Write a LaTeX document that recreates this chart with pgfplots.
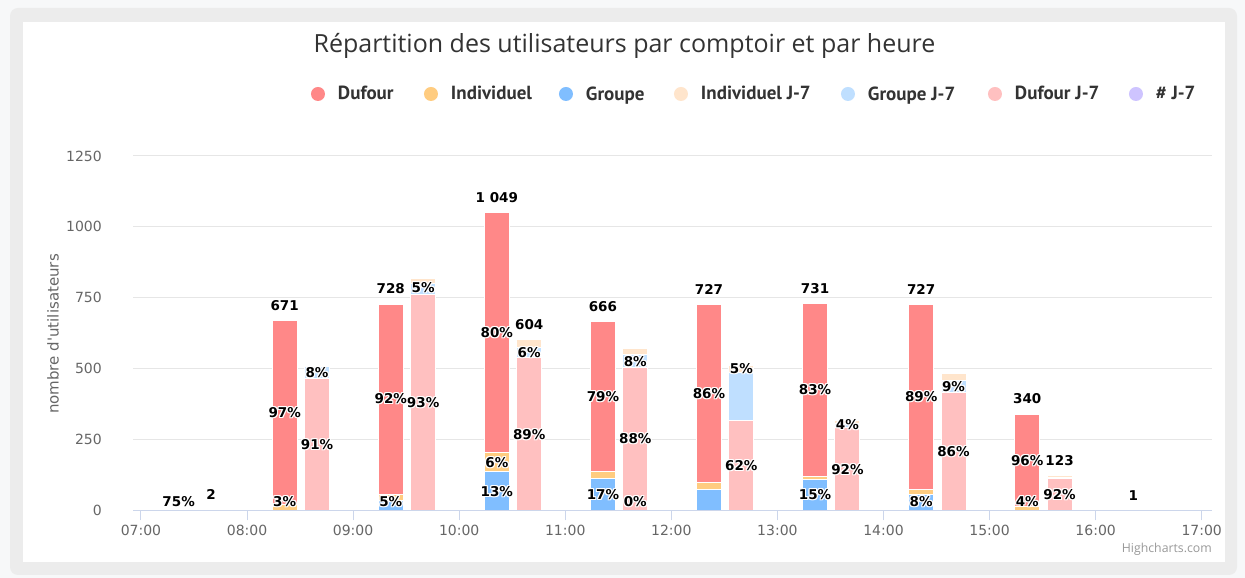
\documentclass[border=0pt]{standalone}
\usepackage{pgfplots}
\pgfplotsset{compat=1.18}
\usepackage{pgfplotstable}
\usepackage{fontspec}
\setmainfont{Open Sans}
\newfontfamily\lblfont{DejaVu Sans}
\newfontfamily\tickfont{DejaVu Sans}
\newfontfamily\legfont{PT Sans}

\definecolor{duf}{RGB}{255,136,136}
\definecolor{ind}{RGB}{255,204,128}
\definecolor{grp}{RGB}{128,190,255}
\definecolor{indj}{RGB}{255,229,204}
\definecolor{grpj}{RGB}{191,223,255}
\definecolor{dufj}{RGB}{255,192,192}
\definecolor{nj}{RGB}{206,196,255}
\definecolor{gridc}{RGB}{230,230,230}
\definecolor{axc}{RGB}{204,214,235}
\definecolor{tickc}{RGB}{102,102,102}
\definecolor{titlec}{RGB}{51,51,51}
\definecolor{outerbg}{RGB}{247,248,249}
\definecolor{framec}{RGB}{236,236,236}

\pgfplotstableread{
x G I D
7.355 0 1 3
8.355 0 20 651
9.355 36 22 670
10.355 136 68 845
11.355 113 26 527
12.355 74 24 629
13.355 109 12 610
14.355 56 18 653
15.355 0 13 327
16.355 0 0 1
}\cur

\pgfplotstableread{
x N D G I
7.66 0 2 0 0
8.66 0 466 41 5
9.66 0 760 41 16
10.66 0 538 36 30
11.66 1 502 46 22
12.66 0 318 170 25
13.66 0 292 13 12
14.66 0 416 44 23
15.66 0 113 4 6
16.66 0 0 0 0
}\jsept

\newcommand{\outl}[1]{%
  \makebox[0pt]{\raisebox{1pt}{\color{white}#1}}%
  \makebox[0pt]{\raisebox{-1pt}{\color{white}#1}}%
  \makebox[0pt]{\kern2pt\color{white}#1}%
  \makebox[0pt]{\kern-2pt\color{white}#1}%
  \makebox[0pt]{\raisebox{1pt}{\kern2pt\color{white}#1}}%
  \makebox[0pt]{\raisebox{-1pt}{\kern-2pt\color{white}#1}}%
  \makebox[0pt]{\raisebox{1pt}{\kern-2pt\color{white}#1}}%
  \makebox[0pt]{\raisebox{-1pt}{\kern2pt\color{white}#1}}%
  \makebox[0pt]{#1}}
\tikzset{lbl/.style={font=\lblfont\bfseries\fontsize{13.5}{15}\selectfont, inner sep=0pt, text=black}}
\newcommand{\lab}[3]{\node[lbl] at (axis cs:#1,#2) {\outl{#3}};}
\newcommand{\tot}[3]{\node[lbl, yshift=15pt] at (axis cs:#1,#2) {\outl{#3}};}

\pgfplotsset{
  common/.style={
    at={(133pt,67.5pt)}, anchor=south west, scale only axis,
    width=1078.7pt, height=354.5pt,
    xmin=6.925, xmax=17.094, ymin=0, ymax=1250,
    ybar stacked, bar width=25pt,
  },
  bars/.style={fill=#1, draw=white, line width=1pt},
}

\begin{document}
\begin{tikzpicture}
\fill[outerbg] (0,0) rectangle (1245pt,578pt);
\fill[framec, rounded corners=8pt] (10pt,3pt) rectangle (1237pt,570pt);
\fill[white] (23pt,16pt) rectangle (1225pt,556pt);

\node[text=titlec, font=\fontsize{25}{29}\selectfont] at (624.5pt,532pt) {Répartition des utilisateurs par comptoir et par heure};
\node[text=tickc, rotate=90, font=\tickfont\fontsize{15}{17}\selectfont] at (53pt,244pt) {nombre d'utilisateurs};
\node[text={rgb,255:red,153;green,153;blue,153}, anchor=east, inner sep=0pt, font=\fontsize{12.3}{14}\selectfont] at (1212pt,29pt) {Highcharts.com};

\begin{axis}[common,
  ytick={0,250,...,1250},
  xtick={7,...,17},
  xticklabels={07:00,08:00,09:00,10:00,11:00,12:00,13:00,14:00,15:00,16:00,17:00},
  ymajorgrids, grid style={gridc, line width=1pt},
  axis x line*=bottom, axis y line*=left,
  y axis line style={draw=none},
  x axis line style={axc, line width=1pt},
  tick align=outside,
  xtick style={axc, line width=1pt},
  major tick length=10pt,
  ytick style={draw=none},
  /pgf/number format/assume math mode=true,
  /pgf/number format/1000 sep={},
  scaled y ticks=false,
  ticklabel style={font=\tickfont\fontsize{14}{16}\selectfont, text=tickc},
  yticklabel style={anchor=east, inner sep=0pt, xshift=-21pt},
  xticklabel style={anchor=north, inner sep=0pt, yshift=-4pt},
]
\addplot[bars=grp] table[x=x, y=G]{\cur};
\addplot[bars=ind] table[x=x, y=I]{\cur};
\addplot[bars=duf] table[x=x, y=D]{\cur};
\end{axis}

\begin{axis}[common, hide axis]
\addplot[bars=nj] table[x=x, y=N]{\jsept};
\addplot[bars=dufj] table[x=x, y=D]{\jsept};
\addplot[bars=grpj] table[x=x, y=G]{\jsept};
\addplot[bars=indj] table[x=x, y=I]{\jsept};
\end{axis}

\begin{axis}[common, hide axis,
  legend columns=7,
  legend image code/.code={\fill[#1, draw=none] (7pt,0pt) circle (7pt);},
  legend style={at={(rel axis cs:0.16501,1.1749)}, anchor=west, draw=none, fill=none,
    inner sep=0pt, outer sep=0pt,
    font=\legfont\bfseries\fontsize{19}{21}\selectfont, text=titlec,
    nodes={inner sep=0pt},
    /tikz/every odd column/.append style={column sep=13pt},
    /tikz/every even column/.append style={column sep=30pt}},
]
\draw[axc, line width=1pt] (rel axis cs:0,0) -- (rel axis cs:1,0);
% percent labels, current
\lab{7.355}{32}{75\%}
\lab{8.355}{345.5}{97\%}
\lab{8.355}{32}{3\%}
\lab{9.355}{393}{92\%}
\lab{9.355}{32}{5\%}
\lab{10.355}{626.5}{80\%}
\lab{10.355}{170}{6\%}
\lab{10.355}{68}{13\%}
\lab{11.355}{402.5}{79\%}
\lab{11.355}{56.5}{17\%}
\lab{12.355}{412.5}{86\%}
\lab{13.355}{426}{83\%}
\lab{13.355}{54.5}{15\%}
\lab{14.355}{400.5}{89\%}
\lab{14.355}{32}{8\%}
\lab{15.355}{176.5}{96\%}
\lab{15.355}{32}{4\%}
% percent labels, J-7
\lab{8.66}{485}{8\%}
\lab{8.66}{233}{91\%}
\lab{9.66}{380}{93\%}
\lab{9.66}{785}{5\%}
\lab{10.66}{556}{6\%}
\lab{10.66}{269}{89\%}
\lab{11.66}{526}{8\%}
\lab{11.66}{252}{88\%}
\lab{11.66}{32}{0\%}
\lab{12.66}{500.5}{5\%}
\lab{12.66}{159}{62\%}
\lab{13.66}{302}{4\%}
\lab{13.66}{146}{92\%}
\lab{14.66}{438}{9\%}
\lab{14.66}{208}{86\%}
\lab{15.66}{56.5}{92\%}
% totals
\tot{7.66}{2}{2}
\tot{8.355}{671}{671}
\tot{9.355}{728}{728}
\tot{10.355}{1049}{1\ 049}
\tot{10.66}{604}{604}
\tot{11.355}{666}{666}
\tot{12.355}{727}{727}
\tot{13.355}{731}{731}
\tot{14.355}{727}{727}
\tot{15.355}{340}{340}
\tot{15.66}{123}{123}
\tot{16.355}{1}{1}
\addlegendimage{fill=duf}\addlegendentry{\makebox[56pt][l]{Dufour}}
\addlegendimage{fill=ind}\addlegendentry{\makebox[78pt][l]{Individuel}}
\addlegendimage{fill=grp}\addlegendentry{\makebox[58pt][l]{Groupe}}
\addlegendimage{fill=indj}\addlegendentry{\makebox[110pt][l]{Individuel J-7}}
\addlegendimage{fill=grpj}\addlegendentry{\makebox[90pt][l]{Groupe J-7}}
\addlegendimage{fill=dufj}\addlegendentry{\makebox[84pt][l]{Dufour J-7}}
\addlegendimage{fill=nj}\addlegendentry{\makebox[44pt][l]{\# J-7}}
\end{axis}
\end{tikzpicture}
\end{document}
